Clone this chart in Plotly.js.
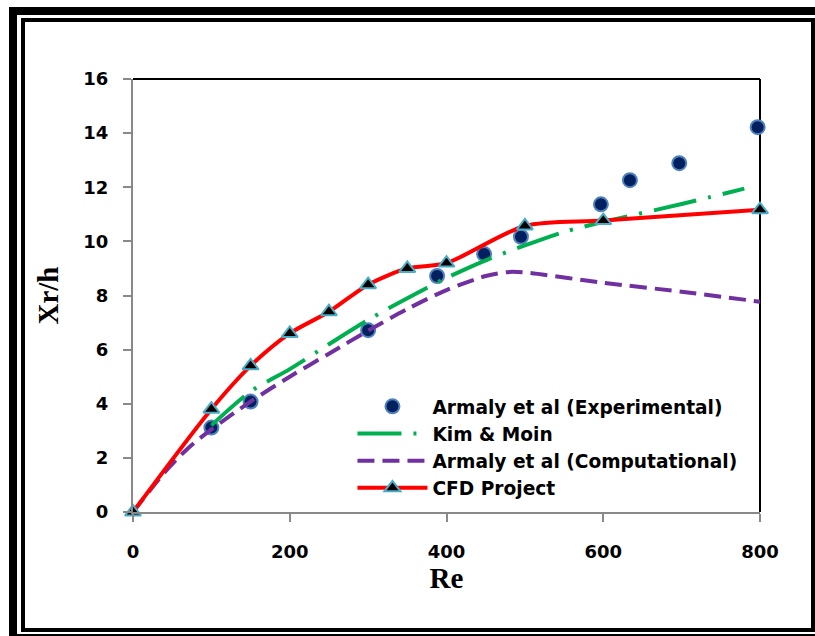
<!DOCTYPE html>
<html>
<head>
<meta charset="utf-8">
<script src="https://cdn.plot.ly/plotly-3.0.1.min.js"></script>
<style>
  html, body { margin: 0; padding: 0; background: #fff; }
  #wrap { position: relative; width: 815px; height: 636px; overflow: hidden; }
  #chart { position: absolute; left: 0; top: 0; width: 815px; height: 636px; }
  .fr { position: absolute; background: #000; pointer-events: none; }
</style>
</head>
<body>
<div id="wrap">
  <div id="chart"></div>
  <div class="fr" style="left:9px;top:7px;width:806px;height:8px;"></div>
  <div class="fr" style="left:9px;top:7px;width:8px;height:629px;"></div>
  <div class="fr" style="left:9px;top:634px;width:806px;height:2px;"></div>
  <div class="fr" style="left:21px;top:18px;width:794px;height:4px;"></div>
  <div class="fr" style="left:21px;top:18px;width:4px;height:614px;"></div>
  <div class="fr" style="left:811px;top:18px;width:4px;height:614px;"></div>
  <div class="fr" style="left:21px;top:628px;width:794px;height:4px;"></div>
</div>
<script>
// ---- data ----
const expRe  = [100, 150, 300, 388, 448, 495, 597, 634, 697, 797];
const expXr  = [3.12, 4.08, 6.72, 8.72, 9.53, 10.17, 11.37, 12.26, 12.89, 14.22];

const kimRe  = [100, 150, 200, 250, 300, 350, 400, 450, 500, 550, 600, 700, 780];
const kimXr  = [3.2, 4.45, 5.28, 6.2, 7.1, 7.9, 8.65, 9.3, 9.85, 10.35, 10.72, 11.38, 11.95];

const compRe = [0, 40, 70, 100, 150, 200, 250, 300, 350, 400, 450, 480, 500, 600, 700, 800];
const compXr = [0, 1.45, 2.35, 3.05, 4.08, 5.0, 5.85, 6.7, 7.5, 8.2, 8.72, 8.87, 8.85, 8.47, 8.14, 7.77];

const cfdRe  = [0, 100, 150, 200, 250, 300, 350, 400, 500, 600, 800];
const cfdXr  = [0, 3.8, 5.4, 6.6, 7.4, 8.4, 9.0, 9.2, 10.57, 10.77, 11.17];

const names = ["Armaly et al (Experimental)", "Kim & Moin", "Armaly et al (Computational)", "CFD Project"];
const xTicks = [0, 200, 400, 600, 800];
const yTicks = [0, 2, 4, 6, 8, 10, 12, 14, 16];

const sansBold = {family: "'DejaVu Sans', 'Open Sans', sans-serif", size: 18, color: "#000", weight: 700};
const legendFont = {family: "'DejaVu Sans', 'Open Sans', sans-serif", size: 18.6, color: "#000", weight: 700};
const serifBold = {family: "'Liberation Serif', 'Times New Roman', serif", size: 29, color: "#000", weight: 700};

const traces = [
  {
    x: expRe, y: expXr, name: names[0], type: "scatter", mode: "markers", cliponaxis: false,
    marker: {symbol: "circle", size: 14, color: "#002060", line: {color: "#4F81BD", width: 2}}
  },
  {
    x: kimRe, y: kimXr, name: names[1], type: "scatter", mode: "lines", cliponaxis: false,
    line: {color: "#00B050", width: 4, dash: "44px,12px,3px,12px", shape: "spline", smoothing: 0.8}
  },
  {
    x: compRe, y: compXr, name: names[2], type: "scatter", mode: "lines", cliponaxis: false,
    line: {color: "#7030A0", width: 4, dash: "17px,8px", shape: "spline", smoothing: 0.8}
  },
  {
    x: cfdRe, y: cfdXr, name: names[3], type: "scatter", mode: "lines+markers", cliponaxis: false,
    line: {color: "#FF0000", width: 4, shape: "spline", smoothing: 0.8},
    marker: {symbol: "triangle-up", size: 14, color: "#000", line: {color: "#4BACC6", width: 2}}
  }
];

const layout = {
  width: 815, height: 636,
  paper_bgcolor: "#fff", plot_bgcolor: "#fff",
  margin: {l: 133, r: 55, t: 79, b: 124, pad: 0},
  showlegend: true,
  legend: {
    x: 0.35, y: 0.287, xanchor: "left", yanchor: "top",
    bgcolor: "rgba(0,0,0,0)", itemwidth: 70,
    font: legendFont,
    tracegroupgap: 0
  },
  xaxis: {
    range: [0, 800], tickvals: xTicks, ticktext: xTicks.map(String),
    showgrid: false, zeroline: false, showline: true, linecolor: "#898989", linewidth: 2,
    ticks: "outside", ticklen: 8, tickwidth: 2, tickcolor: "#898989",
    tickfont: sansBold, ticklabelstandoff: 14,
    title: {text: "Re", font: serifBold, standoff: 0}
  },
  yaxis: {
    range: [0, 16], tickvals: yTicks, ticktext: yTicks.map(String),
    showgrid: false, zeroline: false, showline: true, linecolor: "#898989", linewidth: 2,
    ticks: "outside", ticklen: 8, tickwidth: 2, tickcolor: "#898989",
    tickfont: sansBold, ticklabelstandoff: 11,
    title: {text: "Xr/h", font: serifBold, standoff: 16}
  },
  shapes: [
    {type: "line", xref: "paper", yref: "paper", x0: 0, x1: 1, y0: 1, y1: 1, line: {color: "#000", width: 2}, layer: "below"},
    {type: "line", xref: "paper", yref: "paper", x0: 1, x1: 1, y0: 0, y1: 1, line: {color: "#000", width: 2}, layer: "below"}
  ]
};

Plotly.newPlot("chart", traces, layout, {displayModeBar: false, staticPlot: true});
</script>
</body>
</html>
